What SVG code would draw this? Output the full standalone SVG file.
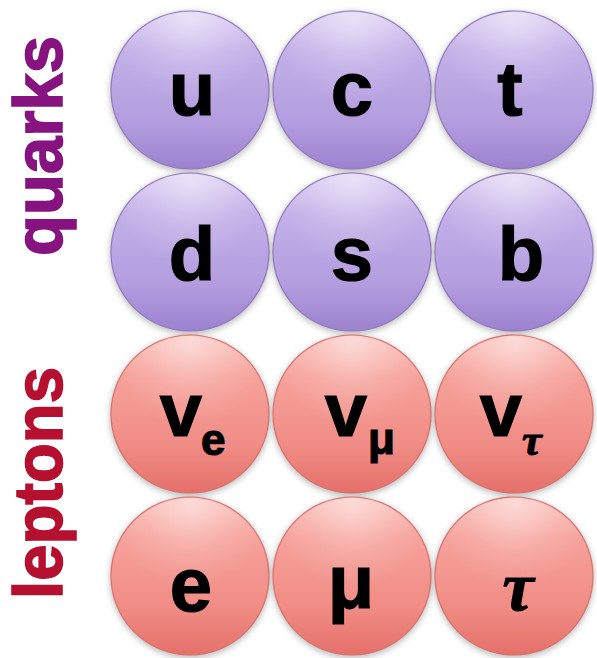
<svg xmlns="http://www.w3.org/2000/svg" width="597" height="658" viewBox="0 0 597 658">
<style>
.lbl{font-family:"Liberation Sans",Arial,sans-serif;font-weight:bold;fill:#000;stroke:#000;stroke-width:1.2;}
.big{font-size:76px;text-anchor:middle;}
.sub{font-size:44px;}
.tau{font-family:"Liberation Serif","DejaVu Serif",serif;font-style:italic;font-weight:bold;fill:#000;stroke:#000;stroke-width:1;}
.side{font-family:"Liberation Sans",Arial,sans-serif;font-weight:bold;font-size:68px;text-anchor:middle;stroke-width:1.6;}
.q circle.b{fill:url(#gq);stroke:#9078c2;stroke-width:1.2;}
.l circle.b{fill:url(#gl);stroke:#dc6f6a;stroke-width:1.2;}
circle.h{fill:url(#hi);}
circle.s{fill:#555;opacity:0.4;filter:url(#blur);}
</style>
<defs>
<linearGradient id="gq" x1="0" y1="0" x2="0" y2="1">
<stop offset="0" stop-color="#dccdf3"/>
<stop offset="0.25" stop-color="#c3b0e8"/>
<stop offset="0.7" stop-color="#b39ddf"/>
<stop offset="1" stop-color="#9c82cf"/>
</linearGradient>
<linearGradient id="gl" x1="0" y1="0" x2="0" y2="1">
<stop offset="0" stop-color="#fbc0ba"/>
<stop offset="0.25" stop-color="#f6a29b"/>
<stop offset="0.7" stop-color="#f08c85"/>
<stop offset="1" stop-color="#e5706a"/>
</linearGradient>
<radialGradient id="hi" cx="0.5" cy="0.08" r="0.5" fx="0.5" fy="0.05">
<stop offset="0" stop-color="#fff" stop-opacity="0.45"/>
<stop offset="0.6" stop-color="#fff" stop-opacity="0.12"/>
<stop offset="1" stop-color="#fff" stop-opacity="0"/>
</radialGradient>
<filter id="blur" x="-20%" y="-20%" width="140%" height="140%">
<feGaussianBlur stdDeviation="3"/>
</filter>
</defs>
<text class="side" fill="#86137f" stroke="#86137f" transform="translate(62,146) rotate(-90)" textLength="220" lengthAdjust="spacingAndGlyphs">quarks</text>
<text class="side" fill="#b5102f" stroke="#b5102f" transform="translate(62,483) rotate(-90)" textLength="232" lengthAdjust="spacingAndGlyphs">leptons</text>

<g id="u" class="q"><circle class="s" cx="190" cy="92" r="80"/><circle class="b" cx="190" cy="90" r="79"/><circle class="h" cx="190" cy="90" r="78"/><text class="lbl big" x="192" y="115">u</text></g>
<g id="c" class="q"><circle class="s" cx="352" cy="92" r="80"/><circle class="b" cx="352" cy="90" r="79"/><circle class="h" cx="352" cy="90" r="78"/><text class="lbl big" x="352" y="115">c</text></g>
<g id="t" class="q"><circle class="s" cx="514" cy="92" r="80"/><circle class="b" cx="514" cy="90" r="79"/><circle class="h" cx="514" cy="90" r="78"/><text class="lbl big" x="510" y="115">t</text></g>

<g id="d" class="q"><circle class="s" cx="190" cy="254" r="80"/><circle class="b" cx="190" cy="252" r="79"/><circle class="h" cx="190" cy="252" r="78"/><text class="lbl big" x="192" y="280">d</text></g>
<g id="s" class="q"><circle class="s" cx="352" cy="254" r="80"/><circle class="b" cx="352" cy="252" r="79"/><circle class="h" cx="352" cy="252" r="78"/><text class="lbl big" x="352" y="280">s</text></g>
<g id="b" class="q"><circle class="s" cx="514" cy="254" r="80"/><circle class="b" cx="514" cy="252" r="79"/><circle class="h" cx="514" cy="252" r="78"/><text class="lbl big" x="521" y="280">b</text></g>

<g id="nu_e" class="l"><circle class="s" cx="190" cy="416" r="80"/><circle class="b" cx="190" cy="414" r="79"/><circle class="h" cx="190" cy="414" r="78"/><text class="lbl big" x="181" y="436">v</text><text class="lbl sub" x="201" y="455">e</text></g>
<g id="nu_mu" class="l"><circle class="s" cx="352" cy="416" r="80"/><circle class="b" cx="352" cy="414" r="79"/><circle class="h" cx="352" cy="414" r="78"/><text class="lbl big" x="346" y="436">v</text><text class="lbl sub" x="368" y="454">μ</text></g>
<g id="nu_tau" class="l"><circle class="s" cx="514" cy="416" r="80"/><circle class="b" cx="514" cy="414" r="79"/><circle class="h" cx="514" cy="414" r="78"/><text class="lbl big" x="501" y="436">v</text><text class="tau" font-size="44" x="522" y="455">τ</text></g>

<g id="e" class="l"><circle class="s" cx="190" cy="578" r="80"/><circle class="b" cx="190" cy="576" r="79"/><circle class="h" cx="190" cy="576" r="78"/><text class="lbl big" x="191" y="611">e</text></g>
<g id="mu" class="l"><circle class="s" cx="352" cy="578" r="80"/><circle class="b" cx="352" cy="576" r="79"/><circle class="h" cx="352" cy="576" r="78"/><text class="lbl big" x="351" y="608">μ</text></g>
<g id="tau" class="l"><circle class="s" cx="514" cy="578" r="80"/><circle class="b" cx="514" cy="576" r="79"/><circle class="h" cx="514" cy="576" r="78"/><text class="tau" font-size="70" text-anchor="middle" x="518" y="610">τ</text></g>
<g id="connectors"></g>
</svg>
